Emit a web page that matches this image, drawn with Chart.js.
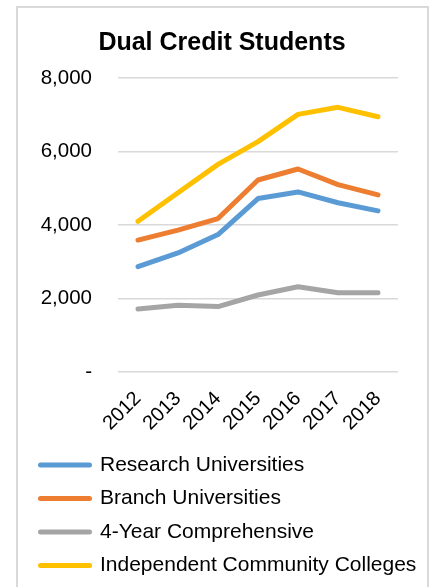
<!DOCTYPE html>
<html>
<head>
<meta charset="utf-8">
<script src="https://cdn.jsdelivr.net/npm/chart.js@4/dist/chart.umd.min.js"></script>
<style>
  html, body { margin: 0; padding: 0; background: #fff; overflow: hidden; width: 430px; height: 587px; }
  #frame { position: absolute; left: 16px; top: 6px; width: 409px; height: 700px; border: 2px solid #d9d9d9; }
  #c { position: absolute; left: 19px; top: 9px; }
</style>
</head>
<body>
<div id="frame"></div>
<canvas id="c" width="407" height="577"></canvas>
<script>
const title = "Dual Credit Students";
const years = ["2012", "2013", "2014", "2015", "2016", "2017", "2018"];
const seriesNames = ["Research Universities", "Branch Universities", "4-Year Comprehensive", "Independent Community Colleges"];
const research = [2865, 3240, 3740, 4720, 4900, 4605, 4385];
const branch = [3590, 3860, 4175, 5224, 5524, 5100, 4820];
const comprehensive = [1714, 1814, 1780, 2095, 2321, 2158, 2158];
const community = [4100, 4880, 5650, 6267, 7010, 7202, 6947];
const colors = ["#5B9BD5", "#ED7D31", "#A5A5A5", "#FFC000"];
const yTicks = [0, 2000, 4000, 6000, 8000];

const values = [research, branch, comprehensive, community];
const FONT = "'Liberation Sans', Arial, Helvetica, sans-serif";

const datasets = values.map((v, i) => ({
  label: seriesNames[i],
  data: v,
  borderColor: colors[i],
  backgroundColor: colors[i],
  borderWidth: 5,
  borderCapStyle: 'round',
  borderJoinStyle: 'round',
  pointRadius: 0,
  pointHoverRadius: 0,
  tension: 0,
  fill: false,
  order: values.length - i
}));

new Chart(document.getElementById('c'), {
  type: 'line',
  data: { labels: years, datasets },
  options: {
    responsive: false,
    devicePixelRatio: 1,
    animation: false,
    events: [],
    layout: { padding: { left: 9, right: 10, top: 0, bottom: 0 } },
    plugins: {
      tooltip: { enabled: false },
      title: {
        display: true,
        text: title,
        color: '#000',
        font: { family: FONT, size: 25, weight: 'bold', lineHeight: 1.2 },
        padding: { top: 19, bottom: 20 }
      },
      legend: {
        display: true,
        position: 'bottom',
        align: 'start',
        reverse: false,
        labels: {
          color: '#000',
          font: { family: FONT, size: 21 },
          padding: 12.5,
          boxWidth: 49,
          boxHeight: 0,
          sort: (a, b) => a.datasetIndex - b.datasetIndex,
          generateLabels: (chart) => chart.data.datasets.map((d, i) => ({
            text: d.label,
            fillStyle: d.borderColor,
            strokeStyle: d.borderColor,
            lineWidth: 5,
            lineCap: 'round',
            lineJoin: 'round',
            hidden: false,
            datasetIndex: i
          }))
        }
      }
    },
    scales: {
      x: {
        offset: true,
        grid: { display: false, drawTicks: false },
        border: { display: false },
        ticks: {
          color: '#000',
          font: { family: FONT, size: 20 },
          minRotation: 45,
          maxRotation: 45,
          padding: 15,
          autoSkip: false
        },
        afterFit: (s) => { s.height = 70; }
      },
      y: {
        min: 0,
        max: 8000,
        afterBuildTicks: (s) => { s.ticks = yTicks.map(v => ({ value: v })); },
        grid: { color: '#d9d9d9', lineWidth: 1.5, drawTicks: false },
        border: { display: false },
        ticks: {
          color: '#000',
          font: { family: FONT, size: 20.5 },
          padding: 26,
          callback: (v) => v === 0 ? '-' : Number(v).toLocaleString('en-US')
        },
        afterFit: (s) => { s.width = 90; }
      },
      yR: {
        position: 'right',
        display: true,
        grid: { display: false, drawTicks: false },
        border: { display: false },
        ticks: { display: false },
        afterFit: (s) => { s.width = 18; }
      }
    }
  }
});
</script>
</body>
</html>
